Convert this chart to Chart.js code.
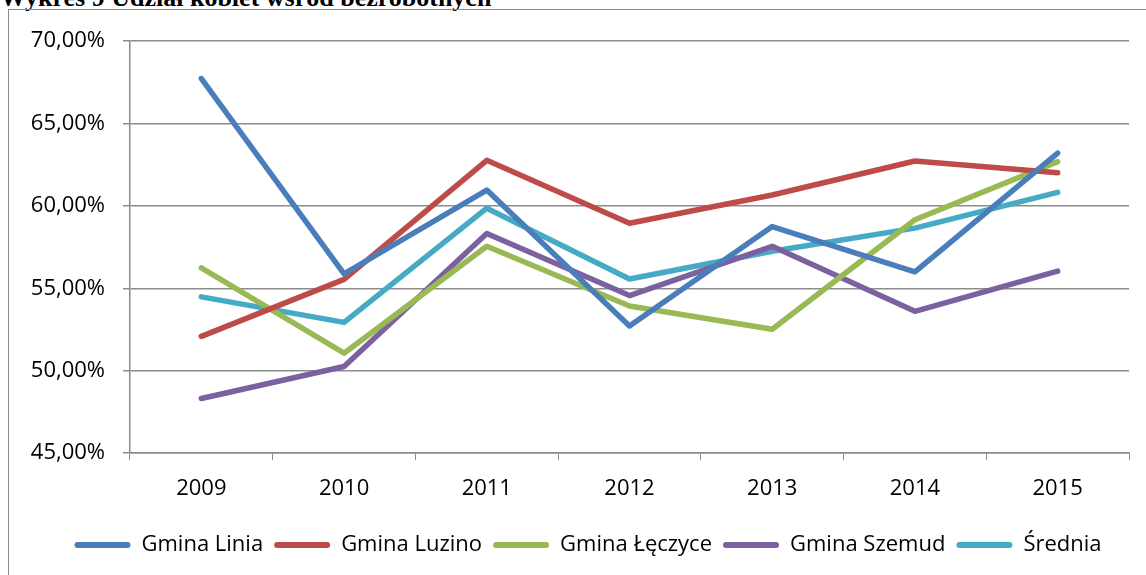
<!DOCTYPE html>
<html>
<head>
<meta charset="utf-8">
<script src="https://cdn.jsdelivr.net/npm/chart.js@4.4.1/dist/chart.umd.min.js"></script>
<style>
  html, body { margin: 0; padding: 0; background: #fff; overflow: hidden; }
  body { width: 1146px; height: 575px; position: relative; }
  #title {
    position: absolute; left: 0; top: -15px;
    font: bold 26px "Liberation Serif", serif; line-height: 26px;
    color: #000; white-space: nowrap;
  }
  #frame {
    position: absolute; left: 8px; top: 9px; width: 1200px; height: 600px;
    border: 1px solid #8c8c8c;
  }
  #wrap { position: absolute; left: 9px; top: 10px; width: 1158px; height: 565px; }
</style>
</head>
<body>
<div id="title">Wykres 9 Udział kobiet wśród bezrobotnych</div>
<div id="frame"></div>
<div id="wrap"><canvas id="chart"></canvas></div>
<script>
// ======== Data ========
const years = ['2009', '2010', '2011', '2012', '2013', '2014', '2015'];

const linia   = [67.73, 55.88, 60.96, 52.71, 58.75, 56.00, 63.21];
const luzino  = [52.08, 55.54, 62.77, 58.95, 60.66, 62.73, 62.01];
const leczyce = [56.24, 51.06, 57.55, 53.92, 52.51, 59.16, 62.69];
const szemud  = [48.31, 50.25, 58.33, 54.56, 57.55, 53.60, 56.04];
const srednia = [54.48, 52.93, 59.86, 55.56, 57.25, 58.65, 60.82];

const seriesNames = ['Gmina Linia', 'Gmina Luzino', 'Gmina Łęczyce', 'Gmina Szemud', 'Średnia'];
const seriesColors = ['#4a7ebb', '#be4b48', '#98b954', '#7d60a0', '#46aac5'];

const yMin = 45, yMax = 70, yStep = 5;

// ======== Chart ========
const FONT = '"Open Sans"';
const FONT_SIZE = 22;
const gridColor = '#8c8c8c';

function makeSet(i, values) {
  return {
    label: seriesNames[i],
    data: values,
    borderColor: seriesColors[i],
    backgroundColor: seriesColors[i],
    borderWidth: 5.5,
    borderCapStyle: 'round',
    borderJoinStyle: 'round',
    pointRadius: 0,
    pointHoverRadius: 0,
    tension: 0,
    fill: false
  };
}

new Chart(document.getElementById('chart'), {
  type: 'line',
  data: {
    labels: years,
    datasets: [
      makeSet(0, linia),
      makeSet(1, luzino),
      makeSet(2, leczyce),
      makeSet(3, szemud),
      makeSet(4, srednia)
    ]
  },
  options: {
    responsive: true,
    maintainAspectRatio: false,
    animation: false,
    layout: { padding: { left: 0, right: 0, top: 28, bottom: 9 } },
    plugins: {
      tooltip: { enabled: false },
      legend: {
        position: 'bottom',
        labels: {
          font: { family: FONT, size: FONT_SIZE },
          color: '#000',
          boxWidth: 56,
          boxHeight: 6,
          padding: 11,
          useBorderRadius: true,
          borderRadius: 3,
          generateLabels: chart => {
            const items = Chart.defaults.plugins.legend.labels.generateLabels(chart);
            items.forEach(it => { it.lineWidth = 0; });
            return items;
          }
        }
      }
    },
    scales: {
      x: {
        offset: true,
        grid: { offset: true, drawOnChartArea: false, drawTicks: true, tickLength: 7, color: gridColor },
        border: { color: gridColor, width: 1.5 },
        ticks: { font: { family: FONT, size: FONT_SIZE }, color: '#000', padding: 16 },
        afterFit: s => { s.height = 70; }
      },
      y: {
        min: yMin, max: yMax,
        grid: { color: gridColor, lineWidth: 1.5, tickLength: 7 },
        border: { color: gridColor, width: 1.5 },
        ticks: {
          stepSize: yStep,
          font: { family: FONT, size: FONT_SIZE },
          color: '#000',
          padding: 18,
          callback: v => v.toFixed(2).replace('.', ',') + '%'
        },
        afterFit: s => { s.width = 121; }
      },
      y2: {
        position: 'right',
        display: true,
        grid: { display: false },
        border: { display: false },
        ticks: { display: false },
        afterFit: s => { s.width = 38; }
      }
    }
  }
});
</script>
</body>
</html>
